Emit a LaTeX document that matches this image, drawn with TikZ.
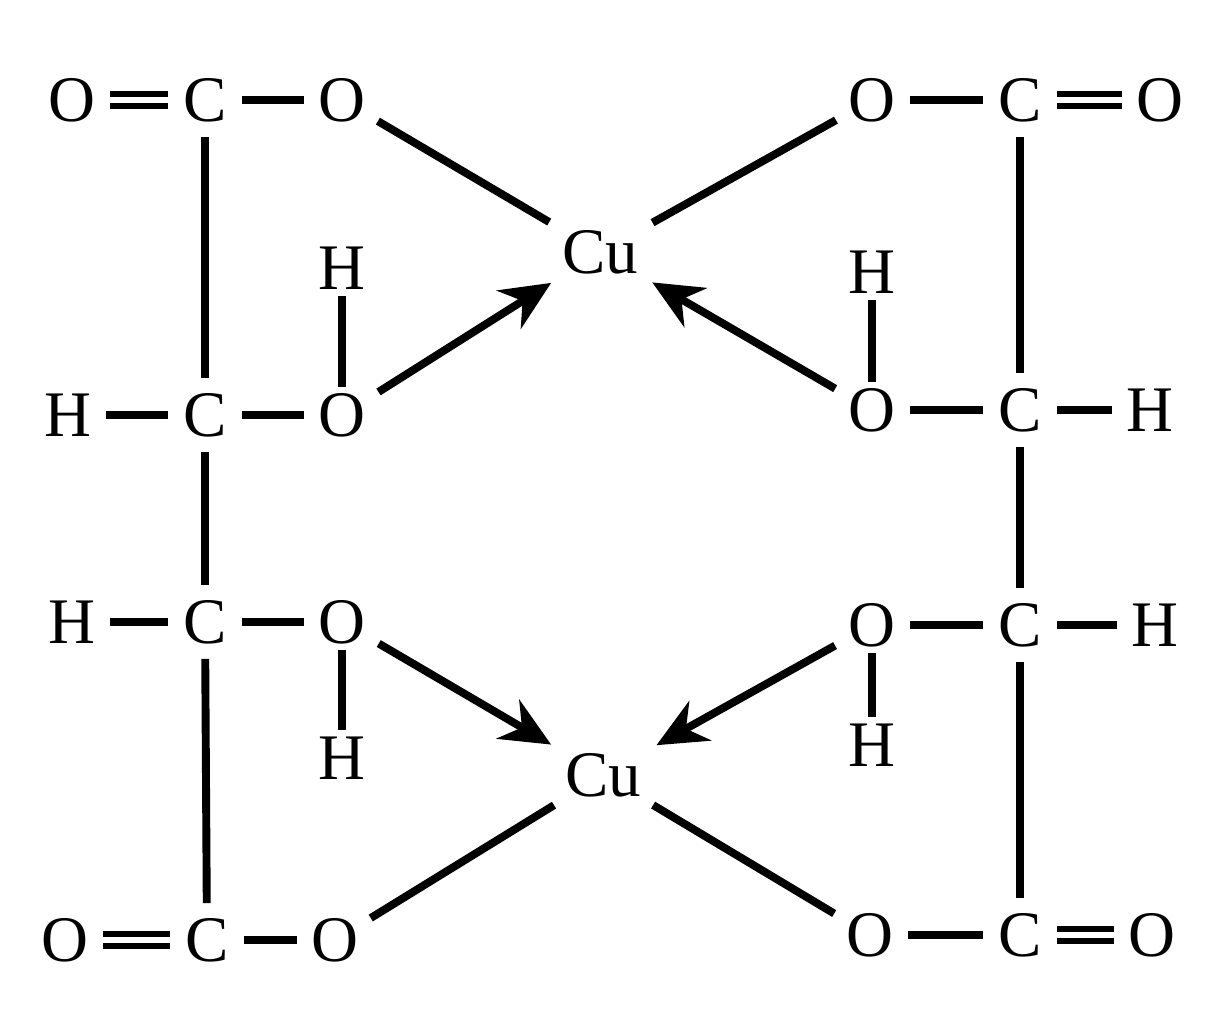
\documentclass[tikz,border=0pt]{standalone}
\usepackage{fontspec}
\setmainfont{Liberation Serif}
\usetikzlibrary{arrows.meta}
\begin{document}
\begin{tikzpicture}[x=0.02cm,y=-0.02cm,
  atm/.style={inner sep=0pt,minimum width=0.9cm,minimum height=0.9cm,font=\fontsize{37}{40}\selectfont},
  bond/.style={line width=4.5pt,shorten <=0.28cm,shorten >=0.28cm},
  dbond/.style={line width=3.5pt,double,double distance=0.12cm,shorten <=0.28cm,shorten >=0.28cm},
  coord/.style={line width=4.5pt,shorten <=0.3cm,shorten >=0.3cm,-{Stealth[length=1cm,width=0.9cm]}}]
\useasboundingbox (0,0) rectangle (1227,1014);
% left
\node[atm] (O1) at (72,100) {O};
\node[atm] (C1) at (205,100) {C};
\node[atm] (O2) at (342,100) {O};
\node[atm] (H1) at (342,268) {H};
\node[atm] (H2) at (68,415) {H};
\node[atm] (C2) at (205,415) {C};
\node[atm] (O3) at (342,415) {O};
\node[atm] (H3) at (72,622) {H};
\node[atm] (C3) at (205,622) {C};
\node[atm] (O4) at (342,622) {O};
\node[atm] (H4) at (342,758) {H};
\node[atm] (O5) at (65,940) {O};
\node[atm] (C4) at (207,940) {C};
\node[atm] (O6) at (335,940) {O};
% Cu
\node[atm,minimum width=1.6cm] (Cu1) at (600,252) {Cu};
\node[atm,minimum width=1.6cm] (Cu2) at (603,775) {Cu};
% right
\node[atm] (P1) at (872,100) {O};
\node[atm] (D1) at (1020,100) {C};
\node[atm] (P2) at (1160,100) {O};
\node[atm] (J1) at (872,272) {H};
\node[atm] (P3) at (872,410) {O};
\node[atm] (D2) at (1020,410) {C};
\node[atm] (J2) at (1150,410) {H};
\node[atm] (P4) at (872,625) {O};
\node[atm] (D3) at (1020,625) {C};
\node[atm] (J3) at (1155,625) {H};
\node[atm] (J4) at (872,745) {H};
\node[atm] (P5) at (870,935) {O};
\node[atm] (D4) at (1020,935) {C};
\node[atm] (P6) at (1152,935) {O};
% bonds left
\draw[dbond] (O1) -- (C1);
\draw[bond] (C1) -- (O2);
\draw[bond] (C1) -- (C2);
\draw[bond] (H2) -- (C2);
\draw[bond] (C2) -- (O3);
\draw[bond,shorten <=0.1cm,shorten >=0.1cm] (H1) -- (O3);
\draw[bond] (C2) -- (C3);
\draw[bond] (H3) -- (C3);
\draw[bond] (C3) -- (O4);
\draw[bond,shorten <=0.1cm,shorten >=0.1cm] (O4) -- (H4);
\draw[bond] (C3) -- (C4);
\draw[dbond] (O5) -- (C4);
\draw[bond] (C4) -- (O6);
% bonds right
\draw[bond] (P1) -- (D1);
\draw[dbond] (D1) -- (P2);
\draw[bond] (D1) -- (D2);
\draw[bond] (P3) -- (D2);
\draw[bond] (D2) -- (J2);
\draw[bond,shorten <=0.1cm,shorten >=0.1cm] (J1) -- (P3);
\draw[bond] (D2) -- (D3);
\draw[bond] (P4) -- (D3);
\draw[bond] (D3) -- (J3);
\draw[bond,shorten <=0.1cm,shorten >=0.1cm] (P4) -- (J4);
\draw[bond] (D3) -- (D4);
\draw[bond] (P5) -- (D4);
\draw[dbond] (D4) -- (P6);
% Cu bonds
\draw[bond] (O2) -- (Cu1);
\draw[bond] (P1) -- (Cu1);
\draw[bond] (O6) -- (Cu2);
\draw[bond] (P5) -- (Cu2);
\draw[coord] (O3) -- (Cu1);
\draw[coord] (P3) -- (Cu1);
\draw[coord] (O4) -- (Cu2);
\draw[coord] (P4) -- (Cu2);
\end{tikzpicture}
\end{document}
